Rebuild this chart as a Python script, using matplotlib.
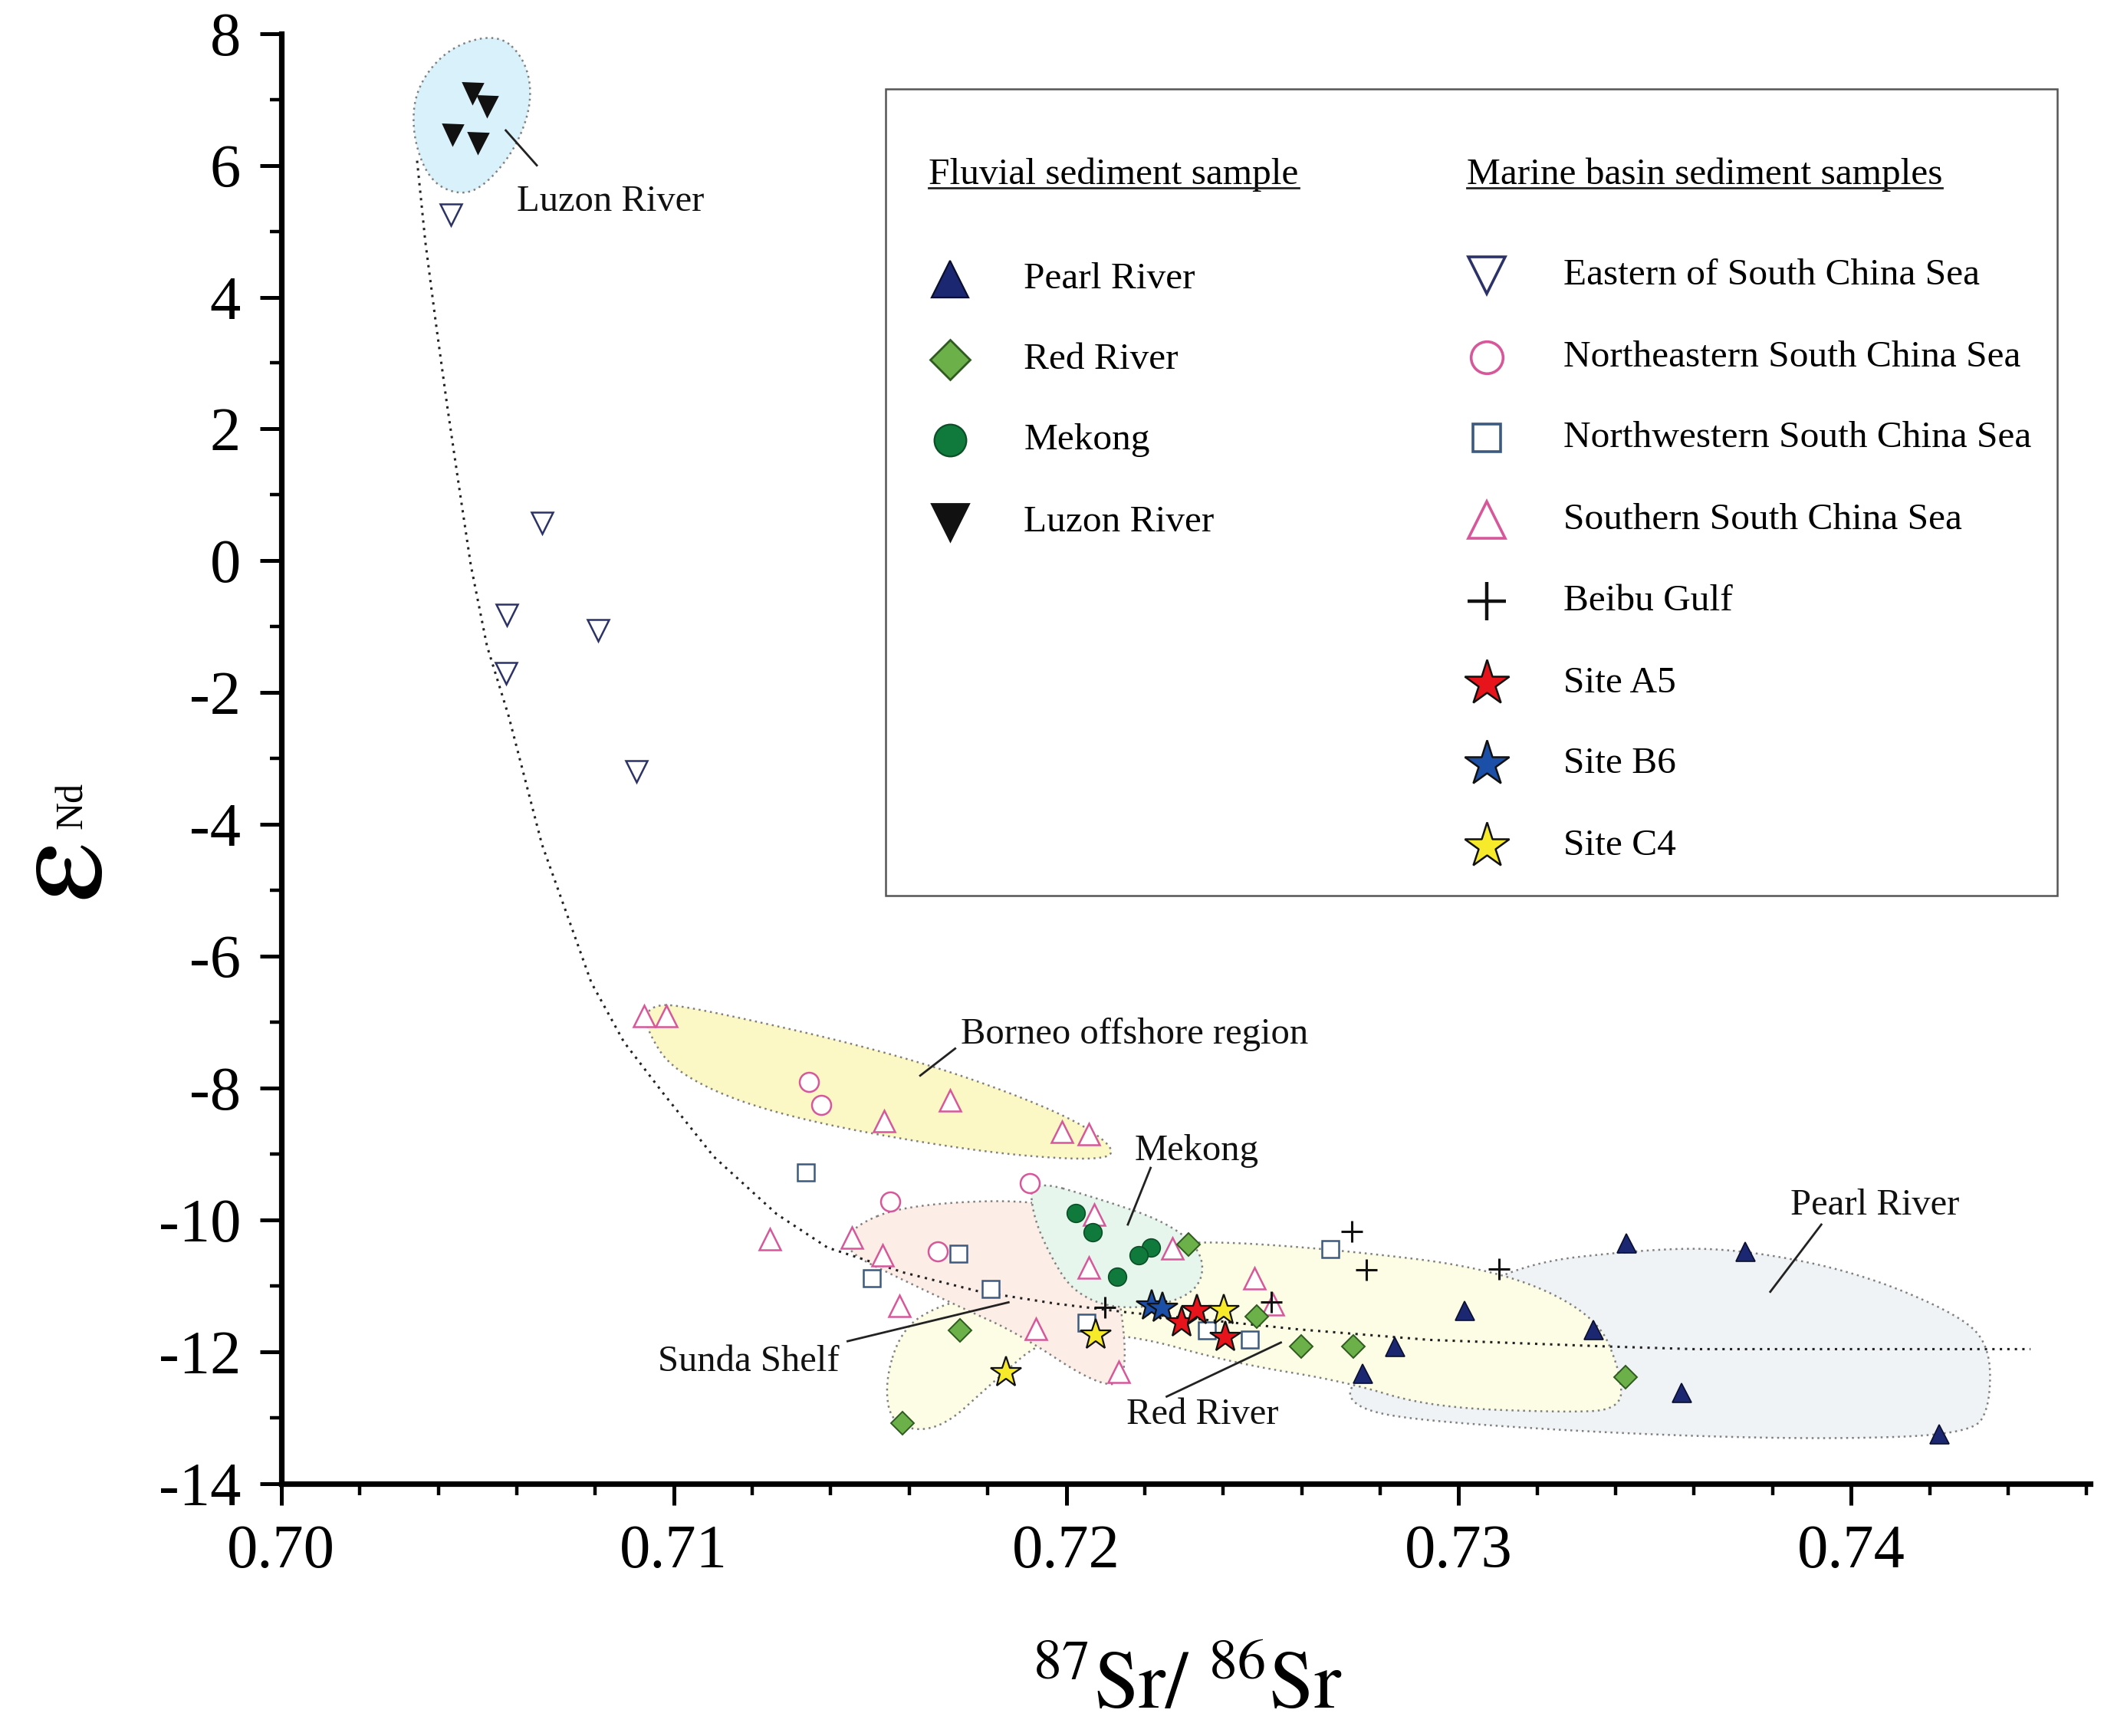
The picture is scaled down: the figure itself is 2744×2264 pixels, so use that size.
import matplotlib
matplotlib.use('Agg')
import matplotlib.pyplot as plt
import numpy as np
from matplotlib.patches import Polygon, Rectangle
from matplotlib.ticker import MultipleLocator, FormatStrFormatter

plt.rcParams['font.family'] = ['Liberation Serif', 'DejaVu Serif']
plt.rcParams['mathtext.fontset'] = 'stix'
plt.rcParams['axes.unicode_minus'] = False

# ---- sample data (87Sr/86Sr, eNd) ----
pearl_x = [0.73428, 0.73729, 0.73015, 0.73343, 0.72837, 0.72755, 0.73568, 0.74224]
pearl_y = [-10.35, -10.48, -11.37, -11.66, -11.92, -12.33, -12.62, -13.25]

red_x = [0.72311, 0.72485, 0.72598, 0.72731, 0.73425, 0.71730, 0.71583]
red_y = [-10.37, -11.47, -11.92, -11.92, -12.39, -11.68, -13.08]

mekong_x = [0.72024, 0.72068, 0.72215, 0.72185, 0.72130]
mekong_y = [-9.89, -10.19, -10.42, -10.54, -10.86]

luzon_x = [0.70487, 0.70524, 0.70435, 0.70500]
luzon_y = [7.10, 6.90, 6.47, 6.35]

east_x = [0.70432, 0.70664, 0.70575, 0.70808, 0.70572, 0.70904]
east_y = [5.25, 0.57, -0.82, -1.05, -1.70, -3.20]

ne_x = [0.71344, 0.71375, 0.71552, 0.71908, 0.71672]
ne_y = [-7.91, -8.26, -9.72, -9.44, -10.48]

nw_x = [0.71337, 0.71726, 0.71505, 0.71807, 0.72051, 0.72359, 0.72468, 0.72673]
nw_y = [-9.28, -10.51, -10.88, -11.05, -11.56, -11.68, -11.81, -10.44]

south_x = [0.70924, 0.70982, 0.71536, 0.71703, 0.71990, 0.72058, 0.71244, 0.71454,
           0.71532, 0.71574, 0.71923, 0.72134, 0.72071, 0.72057, 0.72270, 0.72479, 0.72527]
south_y = [-6.91, -6.91, -8.50, -8.19, -8.66, -8.70, -10.29, -10.27,
           -10.53, -11.30, -11.65, -12.30, -9.92, -10.72, -10.43, -10.88, -11.28]

beibu_x = [0.72728, 0.72765, 0.73103, 0.72098, 0.72522]
beibu_y = [-10.17, -10.76, -10.74, -11.33, -11.25]

a5_x = [0.72294, 0.72334, 0.72406]
a5_y = [-11.56, -11.37, -11.78]

b6_x = [0.72217, 0.72246]
b6_y = [-11.30, -11.34]

c4_x = [0.72401, 0.72076, 0.71846]
c4_y = [-11.37, -11.75, -12.32]

# mixing curve
curve_x = [0.70346, 0.70367, 0.70394, 0.70422, 0.70452, 0.70483, 0.70524, 0.70579,
           0.70664, 0.70790, 0.70873, 0.70972, 0.71102, 0.71262, 0.71392, 0.71587,
           0.71781, 0.71973, 0.72167, 0.72314, 0.72591, 0.72926, 0.73380, 0.73599, 0.74457]
curve_y = [6.07, 4.84, 3.60, 2.38, 1.16, -0.07, -1.29, -2.35,
           -4.30, -6.40, -7.30, -8.07, -9.04, -9.91, -10.42, -10.80,
           -11.09, -11.27, -11.41, -11.49, -11.66, -11.82, -11.92, -11.96, -11.96]

# region outlines
luzon_reg_x = [0.70555, 0.70623, 0.70640, 0.70599, 0.70521, 0.70456, 0.70377, 0.70333, 0.70343, 0.70428]
luzon_reg_y = [8.00, 7.59, 6.98, 6.27, 5.70, 5.54, 5.76, 6.47, 7.19, 7.80]

borneo_reg_x = [0.70938, 0.71020, 0.71587, 0.71990, 0.72137, 0.72072, 0.71747, 0.71262, 0.71002, 0.70924]
borneo_reg_y = [-6.75, -6.73, -7.50, -8.36, -8.95, -9.11, -8.95, -8.42, -7.79, -7.05]

mekong_reg_x = [0.71908, 0.72085, 0.72256, 0.72348, 0.72345, 0.72256, 0.72120, 0.72017, 0.71959, 0.71915]
mekong_reg_y = [-9.38, -9.68, -10.03, -10.48, -11.01, -11.29, -11.35, -11.09, -10.54, -9.93]

sunda_reg_x = [0.71457, 0.71587, 0.71894, 0.72068, 0.72137, 0.72157, 0.72079, 0.71877, 0.71740, 0.71587, 0.71430]
sunda_reg_y = [-10.09, -9.78, -9.68, -9.93, -11.05, -12.47, -12.51, -11.72, -11.35, -10.92, -10.46]

red_reg_x = [0.71537, 0.71580, 0.71675, 0.71829, 0.72017, 0.72222, 0.72335, 0.72676, 0.73097,
             0.73350, 0.73414, 0.73414, 0.73264, 0.72926, 0.72711, 0.72424, 0.72154, 0.71949,
             0.71812, 0.71675, 0.71556]
red_reg_y = [-12.47, -11.66, -11.29, -11.09, -10.80, -10.44, -10.31, -10.44, -10.74,
             -11.43, -12.33, -12.88, -12.92, -12.84, -12.45, -12.17, -11.72, -11.76,
             -12.47, -13.21, -13.13]

pearl_reg_x = [0.72861, 0.73097, 0.73517, 0.73736, 0.74019, 0.74272, 0.74354, 0.74354,
               0.74306, 0.73937, 0.73432, 0.72926, 0.72741, 0.72711]
pearl_reg_y = [-11.98, -10.70, -10.42, -10.46, -10.80, -11.43, -11.90, -12.84,
               -13.25, -13.33, -13.25, -13.06, -12.88, -12.51]

x_ticks = [0.70, 0.71, 0.72, 0.73, 0.74]
y_ticks = [-14, -12, -10, -8, -6, -4, -2, 0, 2, 4, 6, 8]


def chaikin(xs, ys, n=4):
    p = np.column_stack([xs, ys])
    for _ in range(n):
        nxt = np.roll(p, -1, axis=0)
        q = 0.75 * p + 0.25 * nxt
        r = 0.25 * p + 0.75 * nxt
        p = np.empty((2 * len(q), 2))
        p[0::2] = q
        p[1::2] = r
    return p


fig = plt.figure(figsize=(13.72, 11.32), dpi=200)
ax = fig.add_axes([0.1337, 0.1454, 0.8599, 0.8353])
ax.set_xlim(0.70, 0.7461)
ax.set_ylim(-14, 8)

# shaded source regions
regions = [
    (pearl_reg_x, pearl_reg_y, '#eff3f5'),
    (red_reg_x, red_reg_y, '#fdfde6'),
    (sunda_reg_x, sunda_reg_y, '#fdede7'),
    (mekong_reg_x, mekong_reg_y, '#e6f6ec'),
    (borneo_reg_x, borneo_reg_y, '#fcf8c6'),
    (luzon_reg_x, luzon_reg_y, '#d9f1fa'),
]
for rx, ry, fc in regions:
    pts = chaikin(rx, ry)
    ax.add_patch(Polygon(pts, closed=True, facecolor=fc, edgecolor='#808080',
                         lw=0.9, linestyle=(0, (1, 2)), zorder=1, clip_on=False))

# mixing curve
ax.plot(curve_x, curve_y, color='#222222', lw=1.1, linestyle=(0, (1, 2.2)), zorder=2)

# samples
mk = dict(linestyle='none', zorder=3, clip_on=False)
ax.plot(south_x, south_y, marker='^', ms=10, mfc='white', mec='#d6589a', mew=0.9, **mk)
ax.plot(ne_x, ne_y, marker='o', ms=9, mfc='white', mec='#d6589a', mew=0.9, **mk)
ax.plot(nw_x, nw_y, marker='s', ms=8, mfc='white', mec='#3c5a80', mew=0.9, **mk)
ax.plot(east_x, east_y, marker='v', ms=10, mfc='white', mec='#2b3268', mew=0.9, **mk)
ax.plot(beibu_x, beibu_y, marker='+', ms=10, color='#111111', mew=1.1, **mk)
ax.plot(mekong_x, mekong_y, marker='o', ms=8.5, mfc='#0f7a3c', mec='#0a4f26', mew=0.6, **mk)
ax.plot(red_x, red_y, marker='D', ms=7.5, mfc='#6cb04a', mec='#2f5a20', mew=0.7, **mk)
ax.plot(pearl_x, pearl_y, marker='^', ms=9, mfc='#1b2770', mec='#0a0f30', mew=0.6, **mk)
ax.plot(luzon_x, luzon_y, marker='v', ms=9, mfc='#111111', mec='#111111', **mk)
ax.plot(b6_x, b6_y, marker='*', ms=15, mfc='#1c4fa8', mec='#111111', mew=0.8, **mk)
ax.plot(a5_x, a5_y, marker='*', ms=15, mfc='#e8141c', mec='#111111', mew=0.8, **mk)
ax.plot(c4_x, c4_y, marker='*', ms=15, mfc='#f7ea2a', mec='#111111', mew=0.8, **mk)

# region labels with leader lines
ann = dict(fontsize=17.5, color='#111111', zorder=4)
ax.text(0.70839, 5.45, 'Luzon River', ha='center', va='center', **ann)
ax.plot([0.70572, 0.70651], [6.53, 6.00], color='#222222', lw=1.0, zorder=4)
ax.text(0.71731, -7.18, 'Borneo offshore region', ha='left', va='center', **ann)
ax.plot([0.71717, 0.71628], [-7.40, -7.81], color='#222222', lw=1.0, zorder=4)
ax.text(0.72175, -8.95, 'Mekong', ha='left', va='center', **ann)
ax.plot([0.72215, 0.72157], [-9.21, -10.07], color='#222222', lw=1.0, zorder=4)
ax.text(0.73845, -9.78, 'Pearl River', ha='left', va='center', **ann)
ax.plot([0.73924, 0.73794], [-10.07, -11.09], color='#222222', lw=1.0, zorder=4)
ax.text(0.71190, -12.15, 'Sunda Shelf', ha='center', va='center', **ann)
ax.plot([0.71443, 0.71853], [-11.84, -11.25], color='#222222', lw=1.0, zorder=4)
ax.text(0.72348, -12.96, 'Red River', ha='center', va='center', **ann)
ax.plot([0.72256, 0.72547], [-12.68, -11.86], color='#222222', lw=1.0, zorder=4)

# axes styling
for s in ['top', 'right']:
    ax.spines[s].set_visible(False)
for s in ['left', 'bottom']:
    ax.spines[s].set_linewidth(2.6)
ax.set_xticks(x_ticks)
ax.xaxis.set_major_formatter(FormatStrFormatter('%.2f'))
ax.xaxis.set_minor_locator(MultipleLocator(0.002))
ax.set_yticks(y_ticks)
ax.yaxis.set_minor_locator(MultipleLocator(1))
ax.tick_params(which='major', direction='out', length=10, width=1.8, labelsize=29, pad=9)
ax.tick_params(which='minor', direction='out', length=5.5, width=1.6)

# axis titles
fig.text(0.5644, 0.027, r'$^{87}\mathrm{Sr}/\ ^{86}\mathrm{Sr}$', fontsize=38,
         ha='center', va='center')
eps = fig.text(0.0225, 0.497, r'$\mathrm{\varepsilon}$', fontsize=66, rotation=90,
               ha='center', va='center')
nd = fig.text(0.0345, 0.536, 'Nd', fontsize=18, rotation=90, ha='center', va='center')

# legend box
T = ax.transAxes
ax.add_patch(Rectangle((0.3341, 0.4056), 0.6474, 0.5564, transform=T, fill=False,
                       edgecolor='#555555', lw=0.9, zorder=5))
h1 = ax.text(0.3578, 0.9028, 'Fluvial sediment sample', transform=T, fontsize=17.8,
             ha='left', va='center', zorder=6)
h2 = ax.text(0.6552, 0.9028, 'Marine basin sediment samples', transform=T, fontsize=17.8,
             ha='left', va='center', zorder=6)

left_rows = [0.8306, 0.7750, 0.7194, 0.6630]
left_items = [
    ('Pearl River', dict(marker='^', ms=17, mfc='#1b2770', mec='#0a0f30', mew=0.8)),
    ('Red River', dict(marker='D', ms=13, mfc='#6cb04a', mec='#2f5a20', mew=1.0)),
    ('Mekong', dict(marker='o', ms=15, mfc='#0f7a3c', mec='#0a4f26', mew=0.8)),
    ('Luzon River', dict(marker='v', ms=17, mfc='#111111', mec='#111111')),
]
for yy, (lab, st) in zip(left_rows, left_items):
    ax.plot([0.3696], [yy], transform=T, linestyle='none', zorder=6, clip_on=False, **st)
    ax.text(0.4104, yy, lab, transform=T, fontsize=17.8, ha='left', va='center', zorder=6)

right_rows = [0.8333, 0.7769, 0.7213, 0.6648, 0.6083, 0.5519, 0.4963, 0.4398]
right_items = [
    ('Eastern of South China Sea', dict(marker='v', ms=17, mfc='white', mec='#2b3268', mew=1.3)),
    ('Northeastern South China Sea', dict(marker='o', ms=15, mfc='white', mec='#d6589a', mew=1.3)),
    ('Northwestern South China Sea', dict(marker='s', ms=13, mfc='white', mec='#3c5a80', mew=1.3)),
    ('Southern South China Sea', dict(marker='^', ms=17, mfc='white', mec='#d6589a', mew=1.3)),
    ('Beibu Gulf', dict(marker='+', ms=18, color='#111111', mew=1.6)),
    ('Site A5', dict(marker='*', ms=22, mfc='#e8141c', mec='#111111', mew=0.9)),
    ('Site B6', dict(marker='*', ms=22, mfc='#1c4fa8', mec='#111111', mew=0.9)),
    ('Site C4', dict(marker='*', ms=22, mfc='#f7ea2a', mec='#111111', mew=0.9)),
]
for yy, (lab, st) in zip(right_rows, right_items):
    ax.plot([0.6663], [yy], transform=T, linestyle='none', zorder=6, clip_on=False, **st)
    ax.text(0.7086, yy, lab, transform=T, fontsize=17.8, ha='left', va='center', zorder=6)

# underline the legend headers; keep the big epsilon fully inside the figure
fig.canvas.draw()
inv = fig.transFigure.inverted()
bb = eps.get_window_extent()
if bb.x0 < 6:
    ex, ey = eps.get_position()
    eps.set_position((ex + (6 - bb.x0) / fig.bbox.width, ey))
for h in (h1, h2):
    bb = h.get_window_extent()
    (x0, y0), (x1, _) = inv.transform([[bb.x0, bb.y0], [bb.x1, bb.y1]])
    fig.add_artist(plt.Line2D([x0, x1], [y0 + 0.002, y0 + 0.002], color='#222222', lw=1.0,
                              transform=fig.transFigure))

fig.savefig('out.png', dpi=200, facecolor='white')
